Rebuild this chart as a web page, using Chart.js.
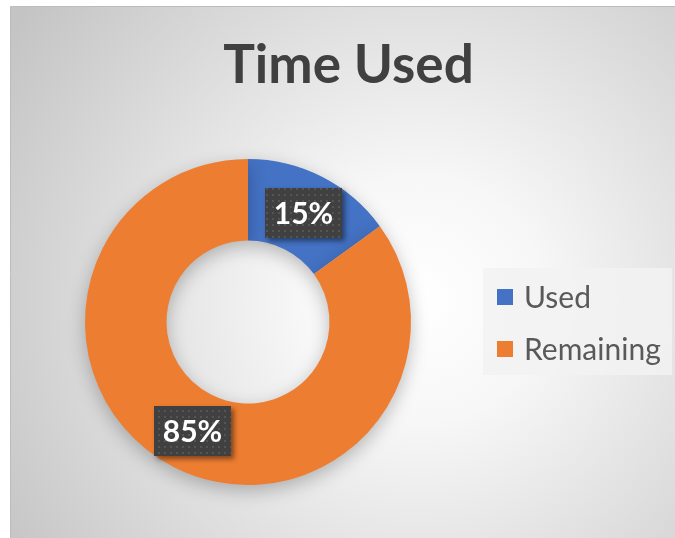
<!DOCTYPE html>
<html><head><meta charset="utf-8">
<script src="https://cdn.jsdelivr.net/npm/chart.js@4/dist/chart.umd.min.js"></script>
<style>html,body{margin:0;padding:0;background:#fff;overflow:hidden}#wrap{width:675px;height:538px;position:relative}</style>
</head><body><div id="wrap"><canvas id="c" width="675" height="538"></canvas></div>
<script>
const chartTitle = 'Time Used';
const categories = ['Used', 'Remaining'];
const values = [15, 85];
const colors = ['#4472C4', '#ED7D31'];

function dotPattern(ctx){
  const pc = document.createElement('canvas');
  pc.width = 6; pc.height = 6;
  const p = pc.getContext('2d');
  p.fillStyle = '#404040'; p.fillRect(0,0,6,6);
  p.fillStyle = '#555555'; p.fillRect(2,2,2,2);
  return ctx.createPattern(pc, 'repeat');
}

const bgPlugin = {
  id: 'bg',
  beforeDraw(chart){
    const ctx = chart.ctx;
    ctx.save();
    ctx.fillStyle = '#ffffff';
    ctx.fillRect(0,0,chart.width,chart.height);
    const g = ctx.createRadialGradient(420, 300, 0, 420, 300, 490);
    g.addColorStop(0, '#ffffff');
    g.addColorStop(0.25, '#f7f7f7');
    g.addColorStop(1, '#c4c4c4');
    ctx.fillStyle = g;
    ctx.fillRect(11, 7, chart.width - 11, chart.height - 7);
    ctx.strokeStyle = '#bcbcbc';
    ctx.lineWidth = 1;
    ctx.beginPath();
    ctx.moveTo(10.5, chart.height); ctx.lineTo(10.5, 6.5); ctx.lineTo(chart.width, 6.5);
    ctx.stroke();
    // title
    ctx.font = 'bold 53px Lato';
    ctx.fillStyle = '#404040';
    ctx.textAlign = 'center';
    ctx.textBaseline = 'alphabetic';
    ctx.fillText(chartTitle, 348.5, 83);
    // legend
    const lx = 483, ly = 268, lw = 189, lh = 107;
    ctx.fillStyle = 'rgba(242,242,242,0.85)';
    ctx.fillRect(lx, ly, lw, lh);
    ctx.font = '30px Lato';
    ctx.textAlign = 'left';
    const rows = [297, 349];
    chart.data.labels.forEach((lab, i) => {
      const y = rows[i];
      ctx.fillStyle = chart.data.datasets[0].backgroundColor[i];
      ctx.fillRect(497, y - 8, 16, 16);
      ctx.fillStyle = '#595959';
      ctx.fillText(lab, 524, y + 11);
    });
    ctx.restore();
  },
  beforeDatasetsDraw(chart){
    const ctx = chart.ctx;
    ctx.save();
    ctx.shadowColor = 'rgba(0,0,0,0.25)';
    ctx.shadowBlur = 18;
    ctx.shadowOffsetX = 0;
    ctx.shadowOffsetY = 6;
  },
  afterDatasetsDraw(chart){
    const ctx = chart.ctx;
    ctx.restore();
    const meta = chart.getDatasetMeta(0);
    const total = values.reduce((a,b)=>a+b,0);
    const pat = dotPattern(ctx);
    meta.data.forEach((arc, i) => {
      const p = arc.tooltipPosition();
      const txt = Math.round(values[i] / total * 100) + '%';
      ctx.save();
      ctx.font = 'bold 30px Lato';
      const tw = ctx.measureText(txt).width;
      const w = Math.round(tw + 18), h = 50;
      const x = Math.round(p.x - w/2), y = Math.round(p.y - h/2);
      ctx.shadowColor = 'rgba(0,0,0,0.45)';
      ctx.shadowBlur = 5;
      ctx.shadowOffsetX = 3;
      ctx.shadowOffsetY = 3;
      ctx.fillStyle = '#404040';
      ctx.fillRect(x, y, w, h);
      ctx.shadowColor = 'transparent';
      ctx.fillStyle = pat;
      ctx.fillRect(x, y, w, h);
      ctx.fillStyle = '#ffffff';
      ctx.textAlign = 'center';
      ctx.textBaseline = 'alphabetic';
      ctx.fillText(txt, p.x, p.y + 11);
      ctx.restore();
    });
  }
};

new Chart(document.getElementById('c'), {
  type: 'doughnut',
  data: {
    labels: categories,
    datasets: [{
      data: values,
      backgroundColor: colors,
      borderWidth: 0
    }]
  },
  options: {
    responsive: false,
    devicePixelRatio: 1,
    animation: false,
    cutout: '50%',
    layout: { padding: { left: 85, right: 264, top: 159, bottom: 53 } },
    plugins: {
      legend: { display: false },
      title: { display: false },
      tooltip: { enabled: false }
    }
  },
  plugins: [bgPlugin]
});
</script>
</body></html>
